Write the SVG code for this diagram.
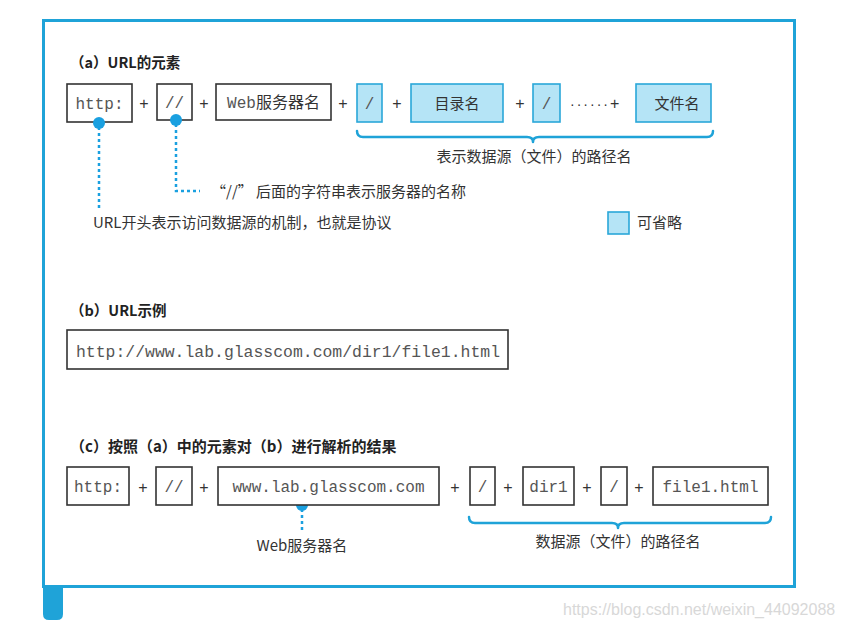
<svg xmlns="http://www.w3.org/2000/svg" width="843" height="628" viewBox="0 0 843 628">
<style>
.frame{fill:none;stroke:#1fa3d8;stroke-width:3}
.box{fill:#fff;stroke:#333;stroke-width:1.6}
.opt{fill:#b5e4f6;stroke:#2aa7d9;stroke-width:1.6}
.mono{font-family:"Liberation Mono","DejaVu Sans Mono",monospace;font-size:16px;fill:#555}
.cjk{font-family:"Noto Sans CJK SC","Noto Sans",sans-serif;font-size:15px;fill:#333}
.title{font-family:"Noto Sans CJK SC","Noto Sans",sans-serif;font-size:14.5px;font-weight:bold;fill:#222}
.plus{font-family:"Liberation Sans",sans-serif;font-size:16px;fill:#333;text-anchor:middle}
.mid{text-anchor:middle}
.brace{fill:none;stroke:#1fa3d8;stroke-width:2.5;stroke-linecap:round;stroke-linejoin:round}
.dot{fill:#1aa0e0}
.lead{fill:none;stroke:#1aa0e0;stroke-width:2.5;stroke-dasharray:3 3}
</style>
<rect x="0" y="0" width="843" height="628" fill="#fff"/>
<rect class="frame" x="43.5" y="20.5" width="751" height="566"/>
<path d="M43,586 H63 V614 Q63,620 57,620 H49 Q43,620 43,614 Z" fill="#1fa3d8"/>

<text class="title" x="70" y="68">（a）URL的元素</text>

<g id="a-http"><rect class="box" x="67" y="84" width="65" height="38"/><text class="mono mid" x="99.5" y="109">http:</text></g>
<text class="plus" x="144" y="109">+</text>
<g id="a-slashes"><rect class="box" x="157" y="84" width="35" height="36"/><text class="mono mid" x="174.5" y="108">//</text></g>
<text class="plus" x="204" y="109">+</text>
<g id="a-server"><rect class="box" x="216" y="84" width="115" height="36"/><text x="273.5" y="108" class="mid"><tspan class="mono">Web</tspan><tspan class="cjk" style="font-size:16px">服务器名</tspan></text></g>
<text class="plus" x="343" y="109">+</text>
<g id="a-slash1"><rect class="opt" x="357" y="84" width="25" height="38"/><text class="mono mid" x="369.5" y="109">/</text></g>
<text class="plus" x="397" y="109">+</text>
<g id="a-dir"><rect class="opt" x="411" y="84" width="92" height="38"/><text class="cjk mid" x="457" y="109">目录名</text></g>
<text class="plus" x="520" y="109">+</text>
<g id="a-slash2"><rect class="opt" x="533" y="84" width="27" height="38"/><text class="mono mid" x="546.5" y="109">/</text></g>
<text x="570" y="109" style="font-family:'Liberation Sans',sans-serif;font-size:16px;fill:#333"><tspan style="font-size:14px;letter-spacing:2px">······</tspan><tspan>+</tspan></text>
<g id="a-file"><rect class="opt" x="636" y="84" width="75" height="38"/><text class="cjk mid" x="677" y="109">文件名</text></g>

<g id="connectors">
<path class="brace" d="M357,131 Q357,137 363,137 H527 Q533,137 533,142 Q533,137 539,137 H707 Q713,137 713,131"/>
<path class="lead" d="M99,127 V208"/>
<path class="lead" d="M176,124 V191 H200"/>
<path class="brace" d="M469,517 Q469,523 475,523 H612 Q618,523 618,528 Q618,523 624,523 H765 Q771,523 771,517"/>
<path class="lead" d="M302,509 V531"/>
</g>
<circle class="dot" cx="99" cy="123" r="6"/>
<circle class="dot" cx="176" cy="120" r="6"/>
<circle class="dot" cx="302" cy="505" r="6"/>

<text class="cjk mid" x="534" y="162">表示数据源（文件）的路径名</text>
<text class="cjk" x="211" y="197">“//” 后面的字符串表示服务器的名称</text>
<text class="cjk" x="93" y="228">URL开头表示访问数据源的机制，也就是协议</text>
<g id="legend"><rect class="opt" x="608" y="212" width="21" height="22"/><text class="cjk" x="637" y="228">可省略</text></g>

<text class="title" x="70" y="316">（b）URL示例</text>
<g id="b-url"><rect class="box" x="67" y="330" width="441" height="39"/><text class="mono" x="76" y="357" textLength="424" lengthAdjust="spacingAndGlyphs">http://www.lab.glasscom.com/dir1/file1.html</text></g>

<text class="title" x="70" y="452" style="font-size:15px">（c）按照（a）中的元素对（b）进行解析的结果</text>
<g id="c-http"><rect class="box" x="67" y="467" width="62" height="38"/><text class="mono mid" x="98" y="492">http:</text></g>
<text class="plus" x="143" y="493">+</text>
<g id="c-slashes"><rect class="box" x="156" y="467" width="36" height="38"/><text class="mono mid" x="174" y="492">//</text></g>
<text class="plus" x="204" y="493">+</text>
<g id="c-server"><rect class="box" x="218" y="467" width="221" height="38"/><text class="mono mid" x="328.5" y="492">www.lab.glasscom.com</text></g>
<text class="plus" x="455" y="493">+</text>
<g id="c-slash1"><rect class="box" x="470" y="467" width="25" height="38"/><text class="mono mid" x="482.5" y="492">/</text></g>
<text class="plus" x="508" y="493">+</text>
<g id="c-dir"><rect class="box" x="523" y="467" width="51" height="38"/><text class="mono mid" x="548.5" y="492">dir1</text></g>
<text class="plus" x="587" y="493">+</text>
<g id="c-slash2"><rect class="box" x="601" y="467" width="26" height="38"/><text class="mono mid" x="614" y="492">/</text></g>
<text class="plus" x="639" y="493">+</text>
<g id="c-file"><rect class="box" x="653" y="467" width="115" height="38"/><text class="mono mid" x="710.5" y="492">file1.html</text></g>

<text class="cjk mid" x="302" y="551">Web服务器名</text>
<text class="cjk mid" x="618" y="547">数据源（文件）的路径名</text>

<text x="563" y="615" style="font-family:'Liberation Sans',sans-serif;font-size:16px;fill:#d8d8d8">https://blog.csdn.net/weixin_44092088</text>
</svg>
